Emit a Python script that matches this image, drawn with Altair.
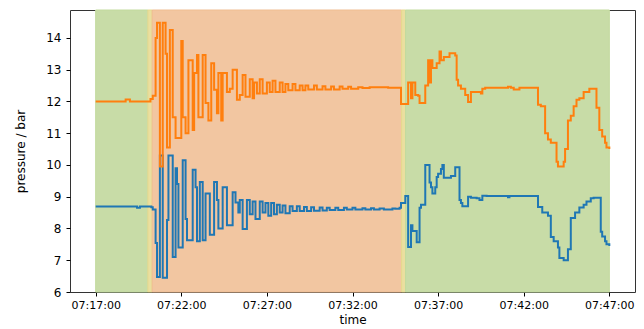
import altair as alt
import pandas as pd

DAY = "2024-01-01T"

# Orange series (upper pressure), step-after samples
orange_times = [
    "07:17:00", "07:18:45", "07:19:00", "07:20:12", "07:20:20", "07:20:30", "07:20:35", "07:20:45",
    "07:20:55", "07:21:05", "07:21:10", "07:21:20", "07:21:30", "07:21:40", "07:22:00", "07:22:05",
    "07:22:15", "07:22:25", "07:22:40", "07:22:45", "07:22:55", "07:23:00", "07:23:15", "07:23:25",
    "07:23:35", "07:23:45", "07:23:55", "07:24:05", "07:24:10", "07:24:20", "07:24:25", "07:24:40",
    "07:24:50", "07:25:00", "07:25:15", "07:25:25", "07:25:35", "07:25:45", "07:26:00", "07:26:10",
    "07:26:15", "07:26:25", "07:26:35", "07:26:45", "07:27:00", "07:27:10", "07:27:20", "07:27:30",
    "07:27:45", "07:27:55", "07:28:05", "07:28:15", "07:28:30", "07:28:40", "07:28:55", "07:29:05",
    "07:29:15", "07:29:25", "07:29:45", "07:29:55", "07:30:15", "07:30:25", "07:30:45", "07:30:55",
    "07:31:15", "07:31:25", "07:31:45", "07:31:55", "07:32:20", "07:32:35", "07:33:00", "07:34:05",
    "07:34:50", "07:35:15", "07:35:25", "07:35:30", "07:35:40", "07:35:50", "07:35:55", "07:36:15",
    "07:36:25", "07:36:30", "07:36:35", "07:36:40", "07:36:55", "07:37:05", "07:37:10", "07:37:20",
    "07:37:40", "07:38:00", "07:38:05", "07:38:10", "07:38:20", "07:38:35", "07:38:45", "07:38:55",
    "07:39:30", "07:39:35", "07:39:45", "07:41:05", "07:41:15", "07:41:25", "07:41:45", "07:42:50",
    "07:43:00", "07:43:15", "07:43:25", "07:43:35", "07:43:55", "07:44:00", "07:44:20", "07:44:25",
    "07:44:35", "07:44:45", "07:44:55", "07:45:05", "07:45:15", "07:45:30", "07:45:50", "07:46:15",
    "07:46:25", "07:46:35", "07:46:45", "07:46:50", "07:47:00",
]
orange_values = [
    12.00, 12.06, 12.00, 12.08, 12.18, 14.00, 14.48, 9.95,
    14.48, 13.50, 10.55, 14.25, 11.50, 10.85, 13.90, 11.50,
    11.00, 13.30, 11.10, 12.90, 13.46, 11.50, 13.46, 11.95,
    11.40, 13.20, 12.37, 11.63, 12.90, 11.40, 12.90, 12.30,
    12.40, 13.00, 12.05, 12.20, 12.83, 12.15, 12.70, 12.10,
    12.60, 12.25, 12.70, 12.25, 12.60, 12.30, 12.65, 12.30,
    12.60, 12.30, 12.55, 12.35, 12.55, 12.35, 12.50, 12.35,
    12.50, 12.38, 12.50, 12.38, 12.48, 12.38, 12.47, 12.38,
    12.47, 12.40, 12.46, 12.40, 12.45, 12.42, 12.45, 12.43,
    11.92, 12.60, 12.10, 12.60, 12.20, 12.18, 11.95, 12.50,
    13.30, 12.60, 13.30, 13.05, 13.20, 13.57, 13.30, 13.40,
    13.52, 13.45, 12.68, 12.50, 12.40, 12.20, 11.98, 12.30,
    12.25, 12.40, 12.43, 12.46, 12.43, 12.38, 12.43, 11.90,
    11.85, 11.00, 10.80, 10.70, 10.10, 9.95, 10.10, 10.50,
    11.40, 11.55, 11.85, 12.05, 12.10, 12.30, 12.40, 11.80,
    11.10, 10.90, 10.70, 10.55, 10.50,
]

# Blue series (lower pressure), step-after samples
blue_times = [
    "07:17:00", "07:19:25", "07:19:35", "07:20:15", "07:20:20", "07:20:30", "07:20:35", "07:20:45",
    "07:20:55", "07:21:10", "07:21:15", "07:21:30", "07:21:40", "07:21:45", "07:21:50", "07:22:05",
    "07:22:15", "07:22:20", "07:22:40", "07:22:50", "07:22:55", "07:23:05", "07:23:15", "07:23:25",
    "07:23:40", "07:23:55", "07:24:05", "07:24:10", "07:24:25", "07:24:40", "07:25:00", "07:25:10",
    "07:25:20", "07:25:25", "07:25:35", "07:25:50", "07:26:00", "07:26:10", "07:26:20", "07:26:35",
    "07:26:45", "07:26:55", "07:27:05", "07:27:15", "07:27:25", "07:27:35", "07:27:45", "07:27:55",
    "07:28:05", "07:28:20", "07:28:30", "07:28:45", "07:28:55", "07:29:10", "07:29:20", "07:29:35",
    "07:29:45", "07:30:05", "07:30:15", "07:30:30", "07:30:40", "07:31:00", "07:31:10", "07:31:30",
    "07:31:40", "07:32:00", "07:32:10", "07:32:35", "07:32:45", "07:33:05", "07:33:15", "07:33:35",
    "07:33:50", "07:34:20", "07:34:30", "07:34:45", "07:34:50", "07:35:05", "07:35:15", "07:35:25",
    "07:35:30", "07:35:45", "07:35:55", "07:36:00", "07:36:15", "07:36:30", "07:36:35", "07:36:40",
    "07:36:50", "07:36:55", "07:37:00", "07:37:10", "07:37:15", "07:37:20", "07:37:45", "07:38:00",
    "07:38:15", "07:38:20", "07:38:25", "07:38:45", "07:38:55", "07:39:15", "07:39:25", "07:39:35",
    "07:39:50", "07:41:05", "07:41:10", "07:42:50", "07:43:05", "07:43:25", "07:43:35", "07:43:45",
    "07:44:00", "07:44:05", "07:44:20", "07:44:35", "07:44:45", "07:45:00", "07:45:15", "07:45:30",
    "07:45:40", "07:45:55", "07:46:05", "07:46:30", "07:46:35", "07:46:45", "07:46:50", "07:47:00",
]
blue_values = [
    8.69, 8.65, 8.69, 8.67, 8.60, 7.54, 6.47, 10.30,
    6.45, 8.27, 10.30, 7.10, 9.90, 9.40, 7.40, 10.15,
    8.30, 7.63, 9.85, 9.30, 7.60, 9.46, 7.63, 9.10,
    7.80, 9.46, 8.90, 8.00, 9.30, 8.10, 9.14, 8.82,
    8.50, 8.90, 7.98, 8.90, 8.45, 8.85, 8.30, 8.85,
    8.50, 8.80, 8.40, 8.80, 8.45, 8.75, 8.50, 8.72,
    8.48, 8.70, 8.55, 8.70, 8.55, 8.68, 8.55, 8.67,
    8.56, 8.66, 8.57, 8.65, 8.58, 8.65, 8.58, 8.65,
    8.60, 8.65, 8.60, 8.64, 8.60, 8.64, 8.60, 8.63,
    8.60, 8.63, 8.62, 8.65, 8.80, 9.02, 7.42, 8.10,
    7.92, 7.57, 8.65, 8.75, 10.00, 9.45, 9.30, 9.10,
    9.30, 9.62, 9.72, 9.87, 10.00, 9.60, 9.65, 9.93,
    8.90, 8.80, 8.70, 9.00, 8.97, 8.95, 8.90, 9.03,
    9.02, 8.98, 9.02, 8.68, 8.50, 8.40, 7.73, 7.60,
    7.40, 7.07, 7.00, 7.35, 8.33, 8.50, 8.66, 8.75,
    8.85, 8.95, 8.97, 7.90, 7.75, 7.60, 7.50, 7.45,
]

# Background phases
region_start = ["07:17:00", "07:20:03", "07:20:18", "07:34:52", "07:35:06"]
region_end = ["07:20:03", "07:20:18", "07:34:52", "07:35:06", "07:47:00"]
region_fill = ["#c8dca7", "#eadf9f", "#f2c6a1", "#eadf9f", "#c8dca7"]
region_edge = ["#c2da9e", "#e6d98e", "#efbd92", "#e6d98e", "#c2da9e"]

x_ticks = ["07:17:00", "07:22:00", "07:27:00", "07:32:00", "07:37:00", "07:42:00", "07:47:00"]
y_ticks = [6, 7, 8, 9, 10, 11, 12, 13, 14]
x_domain = ["07:15:30", "07:48:30"]
y_domain = [6, 14.88]


def dt(t):
    h, m, s = (int(v) for v in t.split(":"))
    return alt.DateTime(year=2024, month=1, date=1, hours=h, minutes=m, seconds=s)


lines = pd.concat([
    pd.DataFrame({"time": [DAY + t for t in blue_times], "p": blue_values, "s": "blue"}),
    pd.DataFrame({"time": [DAY + t for t in orange_times], "p": orange_values, "s": "orange"}),
])
regions = pd.DataFrame({
    "t0": [DAY + t for t in region_start],
    "t1": [DAY + t for t in region_end],
    "fill": region_fill,
    "edge": region_edge,
})

x_scale = alt.Scale(domain=[dt(t) for t in x_domain], nice=False)
y_scale = alt.Scale(domain=y_domain, nice=False, zero=False)

x_axis = alt.Axis(
    values=[dt(t) for t in x_ticks], format="%H:%M:%S", title="time",
    grid=False, domain=False, tickSize=4, tickColor="#000", labelPadding=3,
    labelFontSize=11, titleFontSize=12, titleFontWeight="normal",
    labelColor="#000", titleColor="#000", labelFont="DejaVu Sans", titleFont="DejaVu Sans",
    titlePadding=4,
)
y_axis = alt.Axis(
    values=y_ticks, title="pressure / bar", grid=False, domain=False, tickSize=4,
    tickColor="#000", labelPadding=5, labelFontSize=12, titleFontSize=12,
    titleFontWeight="normal", labelColor="#000", titleColor="#000",
    labelFont="DejaVu Sans", titleFont="DejaVu Sans", titlePadding=18,
)

bg = alt.Chart(regions).mark_rect(strokeWidth=1).encode(
    x=alt.X("t0:T", scale=x_scale, axis=x_axis),
    x2="t1:T",
    y=alt.value(0),
    y2=alt.value(282),
    fill=alt.Fill("fill:N", scale=None),
    stroke=alt.Stroke("edge:N", scale=None),
)

line = alt.Chart(lines).mark_line(interpolate="step-after", strokeWidth=2).encode(
    x=alt.X("time:T", scale=x_scale, axis=x_axis),
    y=alt.Y("p:Q", scale=y_scale, axis=y_axis),
    color=alt.Color("s:N", scale=alt.Scale(domain=["blue", "orange"], range=["#1f77b4", "#ff7f0e"]), legend=None),
    detail="s:N",
)

chart = alt.layer(bg, line).properties(
    width=565, height=282,
    autosize=alt.AutoSizeParams(type="none"),
    padding={"left": 62, "top": 2, "right": 1, "bottom": 37},
).configure_view(stroke="#333", strokeWidth=1)

chart.save("out.html", embed_options={"renderer": "svg", "actions": False})
